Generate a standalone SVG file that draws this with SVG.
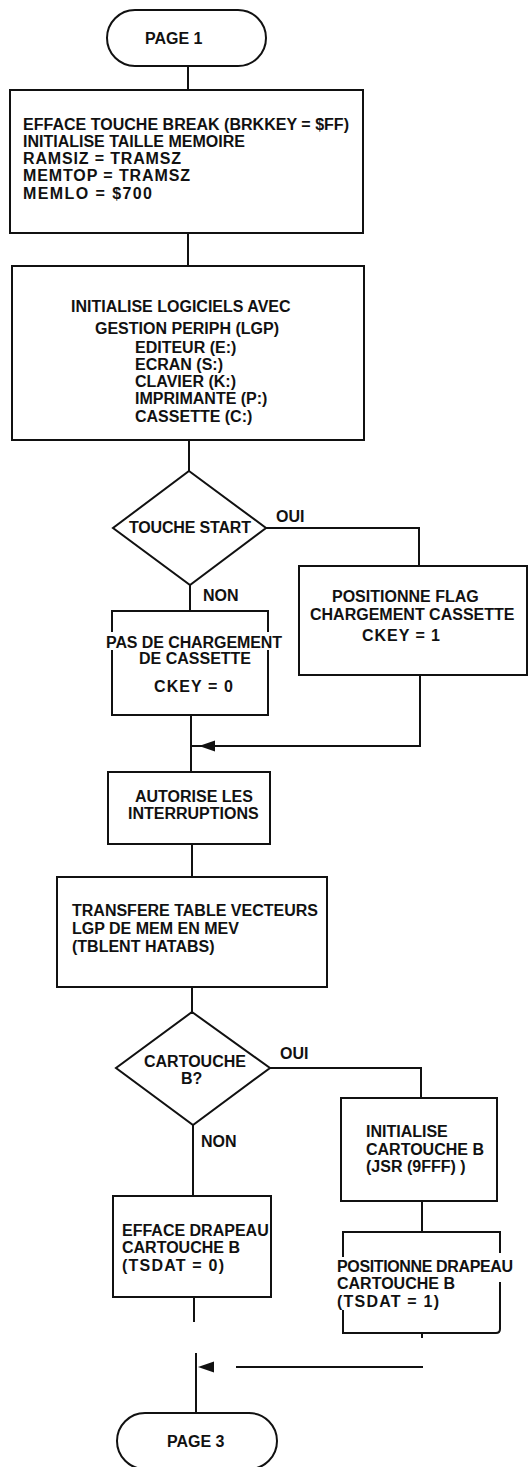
<svg xmlns="http://www.w3.org/2000/svg" width="530" height="1467" viewBox="0 0 530 1467">
<style>
.s{fill:none;stroke:#111;stroke-width:2;stroke-linejoin:miter}
.b{fill:#fff;stroke:#111;stroke-width:2}
text{font-family:"Liberation Sans",Arial,sans-serif;font-weight:bold;font-size:16px;fill:#111}
</style>
<defs>
<path id="ah" d="M0,0 L16,-5.5 L16,5.5 Z" fill="#111"/>
</defs>
<rect width="530" height="1467" fill="#fff"/>
<g id="connectors">
<path class="s" d="M188,66 V90"/>
<path class="s" d="M188,233 V266"/>
<path class="s" d="M189,440 V471"/>
<path class="s" d="M190,585 V611"/>
<path class="s" d="M266,528 H419 V566"/>
<path class="s" d="M420,675 V746 H191"/>
<use href="#ah" x="199" y="746"/>
<path class="s" d="M191,715 V772"/>
<path class="s" d="M192,844 V877"/>
<path class="s" d="M192,987 V1012"/>
<path class="s" d="M270,1068 H421 V1098"/>
<path class="s" d="M193,1125 V1196"/>
<path class="s" d="M422,1201 V1232"/>
<path class="s" d="M194,1297 V1322"/>
<path class="s" d="M196,1353 V1413"/>
<path class="s" d="M423,1367 H236"/>
<use href="#ah" x="198" y="1367"/>
<path class="s" d="M422,1333 V1338"/>
</g>
<g id="page1">
<rect class="b" x="107" y="10" width="159" height="56" rx="28"/>
<text x="145" y="44">PAGE 1</text>
</g>
<g id="init-memoire">
<rect class="b" x="10" y="90" width="353" height="143"/>
<text x="23" y="130" textLength="326">EFFACE TOUCHE BREAK (BRKKEY = $FF)</text>
<text x="23" y="147">INITIALISE TAILLE MEMOIRE</text>
<text x="23" y="164" textLength="158">RAMSIZ = TRAMSZ</text>
<text x="23" y="181" textLength="167">MEMTOP = TRAMSZ</text>
<text x="23" y="199" textLength="129">MEMLO = $700</text>
</g>
<g id="init-logiciels">
<rect class="b" x="12" y="266" width="352" height="174"/>
<text x="71" y="312">INITIALISE LOGICIELS AVEC</text>
<text x="95" y="334">GESTION PERIPH (LGP)</text>
<text x="135" y="353">EDITEUR (E:)</text>
<text x="135" y="370">ECRAN (S:)</text>
<text x="135" y="387">CLAVIER (K:)</text>
<text x="135" y="404">IMPRIMANTE (P:)</text>
<text x="135" y="422">CASSETTE (C:)</text>
</g>
<g id="touche-start">
<path class="b" d="M189,471 L266,528 L190,585 L113,528 Z"/>
<text x="129" y="533" textLength="122">TOUCHE START</text>
<text x="276" y="522">OUI</text>
<text x="203" y="601">NON</text>
</g>
<g id="pas-chargement">
<path class="s" d="M112,632 V611 H268 V632 M268,650 V715 H112 V650"/>
<text x="106" y="648" textLength="176">PAS DE CHARGEMENT</text>
<text x="139" y="664">DE CASSETTE</text>
<text x="154" y="692" textLength="79">CKEY = 0</text>
</g>
<g id="positionne-flag">
<rect class="b" x="299" y="566" width="228" height="109"/>
<text x="332" y="602">POSITIONNE FLAG</text>
<text x="310" y="620">CHARGEMENT CASSETTE</text>
<text x="362" y="641" textLength="78">CKEY = 1</text>
</g>
<g id="autorise">
<rect class="b" x="108" y="772" width="162" height="72"/>
<text x="135" y="802">AUTORISE LES</text>
<text x="128" y="819">INTERRUPTIONS</text>
</g>
<g id="transfere">
<rect class="b" x="57" y="877" width="270" height="110"/>
<text x="72" y="916">TRANSFERE TABLE VECTEURS</text>
<text x="72" y="934">LGP DE MEM EN MEV</text>
<text x="72" y="952">(TBLENT HATABS)</text>
</g>
<g id="cartouche-b">
<path class="b" d="M192,1012 L270,1068 L193,1125 L116,1068 Z"/>
<text x="144" y="1067">CARTOUCHE</text>
<text x="181" y="1084">B?</text>
<text x="280" y="1059">OUI</text>
<text x="201" y="1147">NON</text>
</g>
<g id="init-cartouche">
<rect class="b" x="341" y="1098" width="156" height="103"/>
<text x="366" y="1137">INITIALISE</text>
<text x="366" y="1155">CARTOUCHE B</text>
<text x="366" y="1172">(JSR (9FFF) )</text>
</g>
<g id="efface-drapeau">
<rect class="b" x="113" y="1196" width="158" height="101"/>
<text x="122" y="1236">EFFACE DRAPEAU</text>
<text x="122" y="1253">CARTOUCHE B</text>
<text x="122" y="1271" textLength="102">(TSDAT = 0)</text>
</g>
<g id="positionne-drapeau">
<path class="s" d="M343,1257 V1232 H500 V1253 M500,1282 V1329 Q500,1333 496,1333 H343 V1310"/>
<text x="337" y="1272" textLength="176">POSITIONNE DRAPEAU</text>
<text x="337" y="1289">CARTOUCHE B</text>
<text x="337" y="1307" textLength="102">(TSDAT = 1)</text>
</g>
<g id="page3">
<rect class="b" x="117" y="1413" width="160" height="56" rx="28"/>
<text x="167" y="1447">PAGE 3</text>
</g>
</svg>
